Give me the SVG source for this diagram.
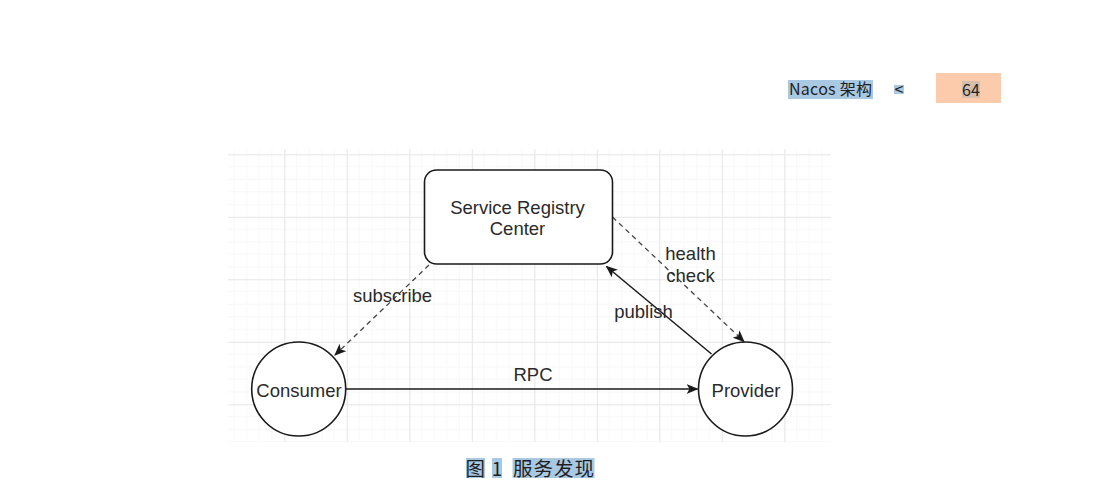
<svg xmlns="http://www.w3.org/2000/svg" width="1109" height="504" viewBox="0 0 1109 504">
<style>
.hdr{font-family:"Noto Sans CJK SC","Liberation Sans",sans-serif;fill:#1f1f1f}
.lbl{font-family:"Liberation Sans",Arial,sans-serif;font-size:18.5px;fill:#2a2a2a;text-anchor:middle}
.node{fill:#ffffff;stroke:#1a1a1a;stroke-width:1.6}
.edge{fill:none;stroke:#1a1a1a;stroke-width:1.5}
.dash{stroke:#444;stroke-dasharray:5 4;stroke-width:1.3}
.hl{fill:#a9c9e3}
</style>
<defs>
<pattern id="grid" patternUnits="userSpaceOnUse" x="284.3" y="154.3" width="62.5" height="62.5">
<path d="M12.5 0V62.5M25 0V62.5M37.5 0V62.5M50 0V62.5M0 12.5H62.5M0 25H62.5M0 37.5H62.5M0 50H62.5" stroke="#f8f8f8" stroke-width="1" fill="none"/>
<path d="M0.5 0V62.5M0 0.5H62.5" stroke="#e6e6e6" stroke-width="1.2" fill="none"/>
</pattern>
<marker id="arr" markerWidth="12" markerHeight="10" refX="11" refY="5" orient="auto" markerUnits="userSpaceOnUse">
<path d="M0,0 L12,5 L0,10 L3,5 Z" fill="#1a1a1a"/>
</marker>
</defs>
<rect width="1109" height="504" fill="#ffffff"/>
<g id="header">
<rect class="hl" x="788" y="80" width="85" height="19"/>
<text class="hdr" x="789" y="95" font-size="16" textLength="83">Nacos 架构</text>
<rect class="hl" x="894" y="85" width="10" height="9"/>
<text class="hdr" x="899" y="95" font-size="16" text-anchor="middle">&lt;</text>
<rect x="936" y="73" width="65" height="30" fill="#fccbab"/>
<rect x="962" y="81" width="18" height="17" fill="#a9b0b0" opacity="0.45"/>
<text class="hdr" x="971" y="95.5" font-size="16" text-anchor="middle">64</text>
</g>
<rect id="canvas" x="228" y="149" width="603" height="293" fill="url(#grid)"/>
<g id="connectors">
<line class="edge dash" x1="429" y1="265" x2="335" y2="355" marker-end="url(#arr)"/>
<line class="edge" x1="711.5" y1="354" x2="606.5" y2="266.5" marker-end="url(#arr)"/>
<line class="edge dash" x1="612.5" y1="217" x2="744" y2="341.5" marker-end="url(#arr)"/>
<line class="edge" x1="346" y1="389" x2="697.5" y2="389" marker-end="url(#arr)"/>
<text class="lbl" x="392.5" y="302">subscribe</text>
<text class="lbl" x="643.5" y="318">publish</text>
<text class="lbl" x="690.5" y="260">health</text>
<text class="lbl" x="690.5" y="282">check</text>
<text class="lbl" x="533" y="381">RPC</text>
</g>
<g id="registry">
<rect class="node" x="424.5" y="170" width="188" height="94" rx="12" ry="12"/>
<text class="lbl" x="517.5" y="213.5">Service Registry</text>
<text class="lbl" x="517.5" y="235">Center</text>
</g>
<g id="consumer">
<circle class="node" cx="298.7" cy="389" r="47"/>
<text class="lbl" x="299" y="397">Consumer</text>
</g>
<g id="provider">
<circle class="node" cx="745.5" cy="389" r="47"/>
<text class="lbl" x="746" y="397">Provider</text>
</g>
<g id="caption">
<rect class="hl" x="466" y="458" width="19" height="20"/>
<rect class="hl" x="492" y="458" width="10" height="20"/>
<rect class="hl" x="512.5" y="458" width="82" height="20"/>
<text class="hdr" x="465.5" y="475.5" font-size="19.5">图</text>
<text class="hdr" x="497" y="475.5" font-size="19" text-anchor="middle">1</text>
<text class="hdr" x="513" y="475.5" font-size="19.5" textLength="81">服务发现</text>
</g>
</svg>
